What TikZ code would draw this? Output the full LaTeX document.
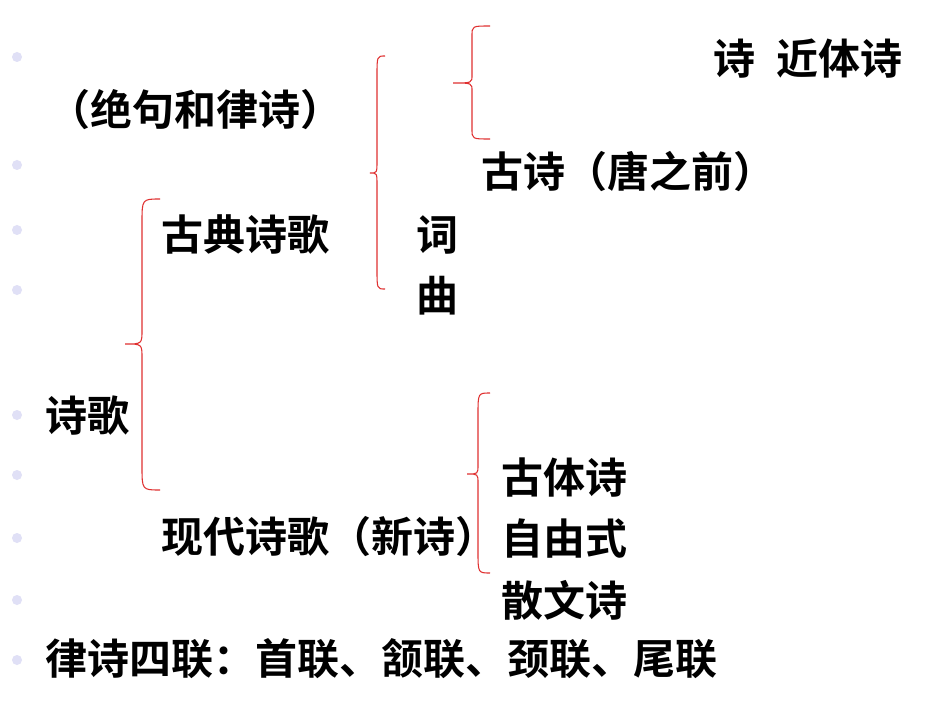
\documentclass[tikz,border=0pt]{standalone}
\usepackage{fontspec}
\newfontfamily\cjk{Noto Sans CJK SC}[BoldFont={Noto Sans CJK SC Bold}]
\definecolor{bulletc}{RGB}{224,224,246}
\definecolor{bracec}{RGB}{224,48,48}
\tikzset{
  lbl/.style={anchor=west,inner sep=0pt,font=\cjk\bfseries\fontsize{31.5pt}{36pt}\selectfont,text=black},
  bul/.style={fill=bulletc,draw=none},
  brc/.style={draw=bracec,line width=0.8pt}
}
% xe xv xt ytop ytip ybot rEnd rTip
\newcommand\mybrace[8]{%
  \draw[brc] (#1,#4) .. controls (#2,#4) .. (#2,{#4+#7}) -- (#2,{#5-#8})
    .. controls (#2,#5) .. (#3,#5) .. controls (#2,#5) .. (#2,{#5+#8})
    -- (#2,{#6-#7}) .. controls (#2,#6) .. (#1,#6);}
\begin{document}
\begin{tikzpicture}[x=0.75pt,y=-0.75pt]
\useasboundingbox (0,0) rectangle (950,713);
\fill[white] (0,0) rectangle (950,713);
% bullets
\foreach \yy in {57,165,230,290,415,475,538,600,660}
  \fill[bul] (17,\yy) circle (5);
% braces
\mybrace{490}{472}{453}{26}{83}{139}{10}{8}
\mybrace{385}{377}{370}{56}{173}{289}{20}{12}
\mybrace{160}{142}{125}{199}{344}{490}{24}{14}
\mybrace{490}{478}{467}{393}{474}{573}{22}{9}
% labels
\node[lbl] (jt) at (713,59) {诗\hspace{0.5em}近体诗};
\node[lbl] (jj) at (48,110) {（绝句和律诗）};
\node[lbl] (gs) at (481,171) {古诗（唐之前）};
\node[lbl] (gd) at (161,235) {古典诗歌};
\node[lbl] (ci) at (416,235) {词};
\node[lbl] (qu) at (416,296) {曲};
\node[lbl] (sg) at (45,416) {诗歌};
\node[lbl] (gt) at (501,478) {古体诗};
\node[lbl] (xd) at (161,537) {现代诗歌（新诗）};
\node[lbl] (zy) at (501,539) {自由式};
\node[lbl] (sw) at (501,600) {散文诗};
\node[lbl] (ls) at (45,659) {律诗四联：首联、颔联、颈联、尾联};
\end{tikzpicture}
\end{document}
